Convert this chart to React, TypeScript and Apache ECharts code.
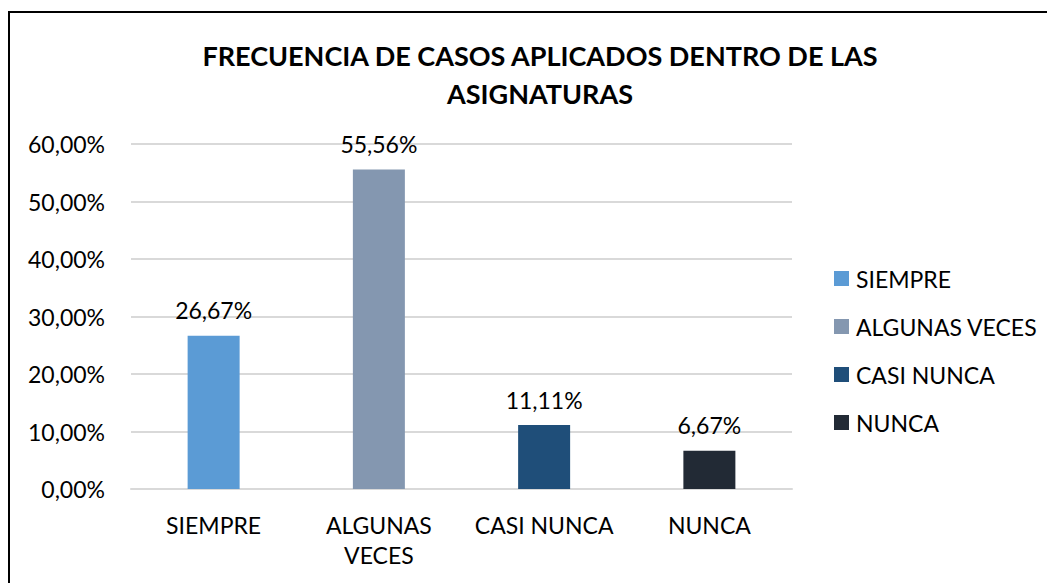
import React, { useEffect, useRef } from "react";
import * as echarts from "echarts";

const categories = ["SIEMPRE", "ALGUNAS VECES", "CASI NUNCA", "NUNCA"];
const axisLabels = ["SIEMPRE", "ALGUNAS\nVECES", "CASI NUNCA", "NUNCA"];
const values = [26.67, 55.56, 11.11, 6.67];
const colors = ["#5B9BD5", "#8497B0", "#1F4E79", "#222A35"];
const titleText = "FRECUENCIA DE CASOS APLICADOS DENTRO DE LAS\nASIGNATURAS";

const fmt = (v: number) => v.toFixed(2).replace(".", ",") + "%";
const FONT = "Lato";

export default function App() {
  const ref = useRef<HTMLDivElement>(null);
  useEffect(() => {
    if (!ref.current) return;
    const chart = echarts.init(ref.current, undefined, { renderer: "svg" });
    chart.setOption({
      animation: false,
      backgroundColor: "transparent",
      title: {
        text: titleText,
        left: 535,
        top: 31,
        textAlign: "center",
        textStyle: {
          fontFamily: FONT,
          fontWeight: "bold",
          fontSize: 27,
          lineHeight: 38,
          color: "#000",
        },
      },
      legend: {
        orient: "vertical",
        left: 834,
        top: 267,
        padding: 0,
        itemWidth: 15,
        itemHeight: 15,
        itemGap: 25,
        icon: "rect",
        data: categories,
        textStyle: { fontFamily: FONT, fontSize: 23, lineHeight: 23, color: "#000", padding: [0, 0, 0, 2] },
      },
      grid: { left: 131, right: 1047 - 792, top: 144, bottom: 583 - 489, containLabel: false },
      xAxis: {
        type: "category",
        data: axisLabels,
        axisTick: { show: false },
        axisLine: { lineStyle: { color: "#d9d9d9", width: 2 } },
        axisLabel: {
          fontFamily: FONT,
          fontSize: 23,
          color: "#000",
          margin: 21,
          lineHeight: 30,
          interval: 0,
        },
      },
      yAxis: {
        type: "value",
        min: 0,
        max: 60,
        interval: 10,
        axisLine: { show: false },
        axisTick: { show: false },
        splitLine: { lineStyle: { color: "#d9d9d9", width: 2 } },
        axisLabel: {
          fontFamily: FONT,
          fontSize: 23,
          color: "#000",
          margin: 26,
          formatter: (v: number) => fmt(v),
        },
      },
      series: categories.map((name, i) => ({
        name,
        type: "bar",
        stack: "total",
        barWidth: 52,
        itemStyle: { color: colors[i] },
        label: {
          show: true,
          position: "top",
          distance: 14,
          fontFamily: FONT,
          fontSize: 23,
          color: "#000",
          formatter: (p: any) => fmt(p.value),
        },
        data: values.map((v, j) => (j === i ? v : null)),
      })),
    });
    return () => chart.dispose();
  }, []);
  return (
    <div style={{ position: "fixed", left: 0, top: 0, width: 1047, height: 583, overflow: "hidden", background: "#fff" }}>
      <div
        style={{
          position: "absolute",
          left: 8,
          top: 11,
          width: 1200,
          height: 800,
          border: "2px solid #000",
          boxSizing: "border-box",
        }}
      />
      <div ref={ref} style={{ position: "absolute", left: 0, top: 0, width: 1047, height: 583 }} />
    </div>
  );
}
